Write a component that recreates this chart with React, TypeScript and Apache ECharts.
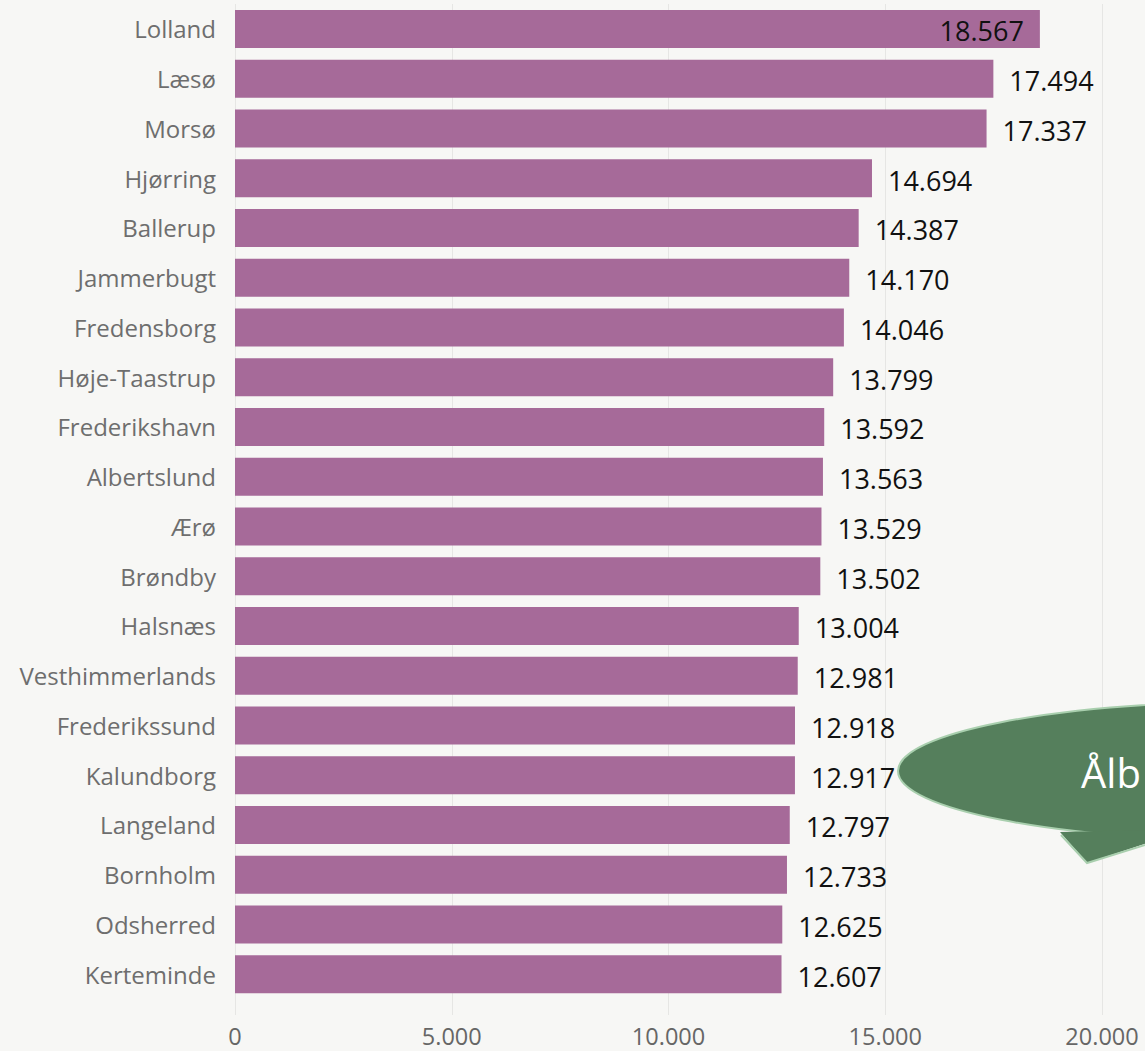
import React, { useEffect, useRef } from "react";
import * as echarts from "echarts";

const categories = [
  "Lolland", "Læsø", "Morsø", "Hjørring", "Ballerup", "Jammerbugt", "Fredensborg",
  "Høje-Taastrup", "Frederikshavn", "Albertslund", "Ærø", "Brøndby", "Halsnæs",
  "Vesthimmerlands", "Frederikssund", "Kalundborg", "Langeland", "Bornholm",
  "Odsherred", "Kerteminde",
];
const values = [
  18567, 17494, 17337, 14694, 14387, 14170, 14046, 13799, 13592, 13563, 13529,
  13502, 13004, 12981, 12918, 12917, 12797, 12733, 12625, 12607,
];
const xTicks = [0, 5000, 10000, 15000, 20000];
const bubbleText = "Ålb";

const fmt = (v: number) => String(Math.round(v)).replace(/\B(?=(\d{3})+(?!\d))/g, ".");

export default function App() {
  const ref = useRef<HTMLDivElement>(null);
  useEffect(() => {
    document.body.style.margin = "0";
    const chart = echarts.init(ref.current!, undefined, { renderer: "svg" });
    const font = "'Open Sans', 'Noto Sans', sans-serif";
    chart.setOption({
      animation: false,
      backgroundColor: "#f7f7f5",
      textStyle: { fontFamily: font },
      grid: { left: 235, right: 43, top: 4, bottom: 52, containLabel: false },
      xAxis: {
        type: "value",
        min: xTicks[0],
        max: xTicks[xTicks.length - 1],
        interval: 5000,
        axisLine: { show: false },
        axisTick: { show: true, length: 16, lineStyle: { color: "#e6e6e4" } },
        splitLine: { lineStyle: { color: "#e6e6e4", width: 1 } },
        axisLabel: {
          color: "#666",
          fontSize: 23.5,
          fontFamily: font,
          margin: 25,
          formatter: (v: number) => fmt(v),
        },
      },
      yAxis: {
        type: "category",
        data: categories,
        inverse: true,
        axisLine: { show: false },
        axisTick: { show: false },
        axisLabel: { color: "#6e6e6e", fontSize: 24, fontFamily: font, margin: 19 },
      },
      series: [
        {
          type: "bar",
          barWidth: 38,
          itemStyle: { color: "#a66a99" },
          label: {
            show: true,
            position: "right",
            distance: 16,
            color: "#111",
            fontSize: 27,
            fontFamily: font,
            offset: [0, 2],
            formatter: (p: any) => fmt(p.value),
          },
          data: values.map((v, i) =>
            i === 0 ? { value: v, label: { position: "insideRight" } } : v
          ),
        },
      ],
      graphic: [
        {
          type: "ellipse",
          z: 100,
          shape: { cx: 1250, cy: 771, rx: 352, ry: 69 },
          style: { fill: "#557f5c", stroke: "#a9cfae", lineWidth: 2 },
        },
        {
          type: "polygon",
          z: 101,
          shape: { points: [[1060, 832], [1087, 863], [1190, 829]] },
          style: { fill: "#557f5c" },
        },
        {
          type: "polyline",
          z: 102,
          shape: { points: [[1061, 835], [1087, 863], [1190, 831]] },
          style: { stroke: "#a9cfae", lineWidth: 2, fill: null },
        },
        {
          type: "text",
          z: 103,
          x: 1081,
          y: 772,
          style: {
            text: bubbleText,
            fill: "#ffffff",
            fontSize: 40,
            fontFamily: font,
            verticalAlign: "middle",
          },
        },
      ],
    });
    return () => chart.dispose();
  }, []);
  return (
    <div
      ref={ref}
      style={{ position: "absolute", left: 0, top: 0, width: 1145, height: 1051 }}
    />
  );
}
